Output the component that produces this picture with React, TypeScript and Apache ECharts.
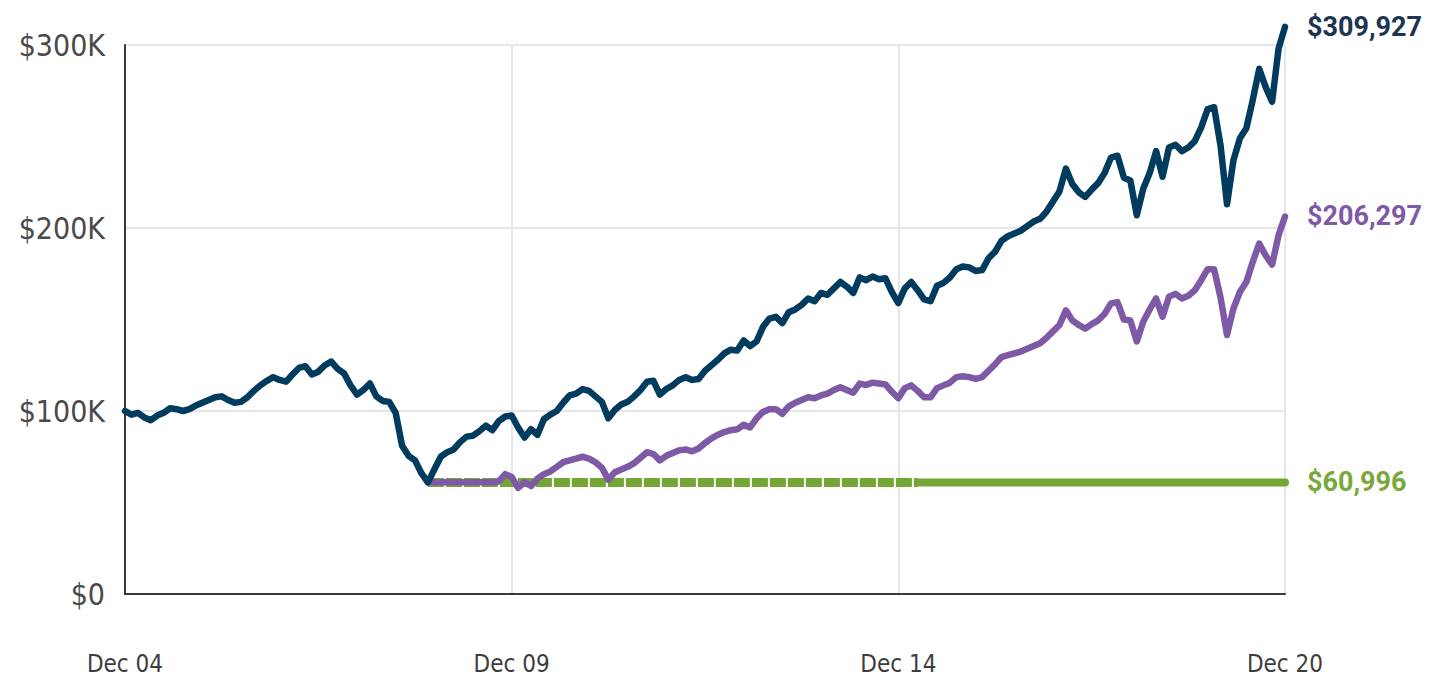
import React, { useEffect, useRef } from 'react';
import * as echarts from 'echarts';

// x axis: months since Dec 2004
const xTickMonths = [0, 60, 120, 180];
const xTickLabels = ['Dec 04', 'Dec 09', 'Dec 14', 'Dec 20'];
const yTicks = [0, 100, 200, 300]; // thousands of dollars

// Navy series, one value per month from month 0 (thousands of dollars)
const navyValues = [
  100, 98, 99, 96.5, 95, 97.5, 99, 101.5, 101, 100,
  101, 103, 104.5, 106, 107.5, 108, 106, 104.5, 105, 107.5,
  111, 114, 116.5, 118.5, 117, 116, 120, 123.5, 124.5, 120,
  121.5, 125, 127, 123, 120.5, 114, 109, 111.5, 115, 108,
  105.5, 105, 99, 81, 75.5, 73, 66, 61, 68, 75,
  77.5, 79, 83, 86, 86.5, 89, 92, 89.5, 94.5, 97,
  97.5, 91, 85.5, 90, 87, 95.5, 98, 100, 104.5, 108.5,
  109.5, 112, 111, 108, 105, 96, 100.5, 103.5, 105, 108,
  111.5, 116, 116.5, 109, 112, 114, 117, 118.5, 117, 117.5,
  122, 125, 128, 131.5, 133.5, 133, 138.5, 135.5, 138, 146,
  150.5, 151.5, 148, 154, 155.5, 158, 161.5, 160, 164.5, 163.5,
  167, 170.5, 168, 164.5, 173, 171.5, 173.5, 172, 172.5, 165,
  159, 167, 170.5, 166, 161, 160, 168.5, 170, 173, 177.5,
  179, 178.5, 176.5, 177, 183.5, 187, 193, 195.5, 197, 198.5,
  201, 203.5, 205, 209, 214.5, 220, 232.5, 224, 219.5, 217,
  221, 224.5, 230, 238.5, 239.5, 227.5, 226, 207, 221.5, 230,
  242, 228, 244, 245.5, 242, 244, 247.5, 255, 265, 266,
  245, 213, 237, 249, 254.5, 270, 287, 277, 269, 298,
  309.927,
];

// Purple series, starts at month 47
const purpleStartMonth = 47;
const purpleValues = [
  61, 61, 61,
  61, 61, 61, 61, 61, 61, 61, 61, 61.5, 65.5,
  64, 58, 61, 59, 63, 65.5, 67, 69.5, 72, 73,
  74, 75, 74, 72, 69, 62.5, 66.5, 68, 69.5, 71.5,
  74.5, 77.5, 76.5, 73, 75.5, 77, 78.5, 79, 78, 79.5,
  82.5, 85, 87, 88.5, 89.5, 90, 92.5, 91, 96, 99.5,
  101, 101, 98.5, 102.5, 104.5, 106, 107.5, 107, 108.5, 109.5,
  111.5, 113, 111.5, 110, 115, 114.2, 115.5, 115, 114.5, 110.5,
  107, 112.5, 114, 111, 107.5, 107.5, 112.5, 114, 115.5, 118.5,
  119, 118.5, 117.5, 118.5, 122, 125.5, 129.5, 130.5, 131.5, 132.5,
  134, 135.5, 137, 140, 143.5, 147, 155, 149.5, 147, 145,
  147.5, 149.5, 153, 158.8, 159.5, 150, 149.5, 138, 148.8, 155.5,
  161.5, 151.5, 162.5, 164, 161.5, 163, 166, 171.5, 177.5, 177.5,
  162, 141.5, 156, 165, 170.5, 181.5, 191.5, 185, 180, 196,
  206.297,
];

// Green series: flat line (dashed look up to month 123, solid after)
const greenMonths = [47, 123, 180];
const greenValues = [60.996, 60.996, 60.996];

const NAVY = '#013b5d';
const PURPLE = '#7e5aa6';
const GREEN = '#74a636';
const COND = "'DejaVu Sans Condensed', 'Liberation Sans', sans-serif";
const BOLD = "Roboto, 'Liberation Sans', sans-serif";

const dollars = (v: number) => '$' + Math.round(v * 1000).toLocaleString('en-US');

export default function App() {
  const ref = useRef<HTMLDivElement>(null);

  useEffect(() => {
    document.body.style.margin = '0';
    if (!ref.current) return;
    const chart = echarts.init(ref.current, undefined, { renderer: 'svg' });

    const navyData = navyValues.map((v, i) => [i, v]);
    const purpleData = purpleValues.map((v, i) => [purpleStartMonth + i, v]);
    const greenDashed = [[greenMonths[0], greenValues[0]], [greenMonths[1], greenValues[1]]];
    const greenSolid = [[greenMonths[1], greenValues[1]], [greenMonths[2], greenValues[2]]];

    const endLabel = (color: string) => ({
      show: true,
      formatter: (p: any) => dollars(p.value[1]),
      distance: 22,
      color,
      fontFamily: BOLD,
      fontWeight: 'bold' as const,
      fontSize: 27,
    });

    chart.setOption({
      animation: false,
      backgroundColor: '#ffffff',
      grid: { left: 125, right: 150, top: 45, bottom: 85, containLabel: false },
      xAxis: {
        type: 'value',
        min: 0,
        max: 180,
        interval: 60,
        axisLine: { show: true, lineStyle: { color: '#3a3a3a', width: 2 } },
        axisTick: { show: false },
        splitLine: { show: true, lineStyle: { color: '#e6e6e6', width: 2 } },
        axisLabel: {
          margin: 58,
          color: '#3d3d3d',
          fontFamily: COND,
          fontSize: 24,
          formatter: (v: number) => {
            const idx = xTickMonths.indexOf(v);
            return idx >= 0 ? xTickLabels[idx] : '';
          },
        },
      },
      yAxis: {
        type: 'value',
        min: yTicks[0],
        max: yTicks[yTicks.length - 1],
        interval: 100,
        axisLine: { show: true, lineStyle: { color: '#3a3a3a', width: 2 } },
        axisTick: { show: false },
        splitLine: { show: true, lineStyle: { color: '#e6e6e6', width: 2 } },
        axisLabel: {
          margin: 20,
          color: '#4a4a4a',
          fontFamily: COND,
          fontSize: 30,
          formatter: (v: number) => (v === 0 ? '$0' : `$${v}K`),
        },
      },
      series: [
        {
          type: 'line',
          data: greenDashed,
          showSymbol: false,
          symbol: 'none',
          clip: false,
          lineStyle: { color: GREEN, width: 9, type: [16, 2], cap: 'butt' },
          z: 1,
        },
        {
          type: 'line',
          data: greenSolid,
          showSymbol: false,
          symbol: 'none',
          clip: false,
          lineStyle: { color: GREEN, width: 8, cap: 'round' },
          endLabel: endLabel('#79a93b'),
          z: 1,
        },
        {
          type: 'line',
          data: purpleData,
          showSymbol: false,
          symbol: 'none',
          clip: false,
          lineStyle: { color: PURPLE, width: 6.5, cap: 'round', join: 'round' },
          endLabel: endLabel(PURPLE),
          z: 2,
        },
        {
          type: 'line',
          data: navyData,
          showSymbol: false,
          symbol: 'none',
          clip: false,
          lineStyle: { color: NAVY, width: 6.5, cap: 'round', join: 'round' },
          endLabel: endLabel('#1c3552'),
          z: 3,
        },
      ],
    });

    return () => chart.dispose();
  }, []);

  return <div ref={ref} style={{ width: 1435, height: 679 }} />;
}
